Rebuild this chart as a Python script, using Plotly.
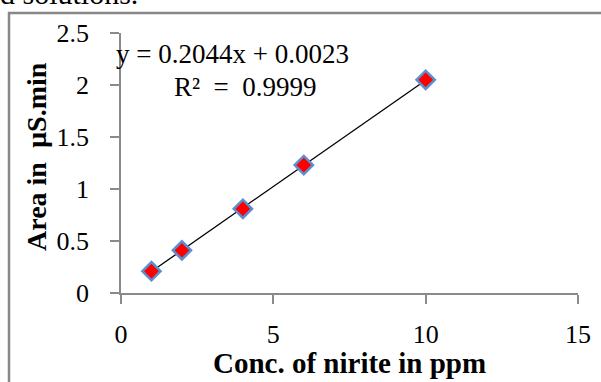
import plotly.graph_objects as go

conc_ppm = [1, 2, 4, 6, 10]
area_us_min = [0.21, 0.41, 0.81, 1.23, 2.05]
slope = 0.2044
intercept = 0.0023
r_squared = 0.9999
x_ticks = [0, 5, 10, 15]
y_ticks = [0, 0.5, 1, 1.5, 2, 2.5]
y_tick_labels = ["0", "0.5", "1", "1.5", "2", "2.5"]

W, H = 601, 382
L, R, T, B = 121, 23, 33, 89
pw, ph = W - L - R, H - T - B

def px_x(p):
    return (p - L) / pw

def px_y(p):
    return (H - B - p) / ph

serif = "Liberation Serif, Times New Roman, serif"
grey = "#8a8a8a"

trend_x = [conc_ppm[0], conc_ppm[-1]]
trend_y = [slope * v + intercept for v in trend_x]

fig = go.Figure()
fig.add_trace(go.Scatter(x=trend_x, y=trend_y, mode="lines",
                         line=dict(color="black", width=1.3), showlegend=False,
                         hoverinfo="skip"))
fig.add_trace(go.Scatter(x=conc_ppm, y=area_us_min, mode="markers",
                         marker=dict(symbol="diamond", size=14, color="#ff0000",
                                     line=dict(color="#5b8fcf", width=2.5)),
                         showlegend=False))

fig.update_layout(
    width=W, height=H,
    margin=dict(l=L, r=R, t=T, b=B, autoexpand=False),
    paper_bgcolor="white", plot_bgcolor="white",
    font=dict(family=serif, color="black", size=26),
    xaxis=dict(range=[0, 15], tickvals=x_ticks, showgrid=False, zeroline=False,
               automargin=False,
               showline=True, linecolor=grey, linewidth=1.5,
               ticks="outside", ticklen=9, tickcolor=grey, tickwidth=1.5,
               ticklabelstandoff=8, tickfont=dict(size=26, family=serif)),
    yaxis=dict(range=[0, 2.5], tickvals=y_ticks, ticktext=y_tick_labels,
               showgrid=False, zeroline=False, automargin=False,
               showline=True, linecolor=grey, linewidth=1.5,
               ticks="outside", ticklen=9, tickcolor=grey, tickwidth=1.5,
               ticklabelstandoff=16, tickfont=dict(size=26, family=serif)),
    shapes=[dict(type="rect", xref="paper", yref="paper",
                 x0=px_x(9), x1=px_x(W + 10), y0=px_y(H + 10), y1=px_y(13),
                 line=dict(color="#888888", width=2.5), fillcolor="rgba(0,0,0,0)",
                 layer="below")],
    annotations=[
        dict(text=f"y = {slope}x + {intercept}", xref="paper", yref="paper",
             x=px_x(114), y=px_y(54), xanchor="left", yanchor="middle",
             showarrow=False, font=dict(size=27, family=serif)),
        dict(text=f"R\u00b2\u00a0 =\u00a0 {r_squared}", xref="paper", yref="paper",
             x=px_x(172), y=px_y(87), xanchor="left", yanchor="middle",
             showarrow=False, font=dict(size=27, family=serif)),
        dict(text="<b>Conc. of nirite in ppm</b>", xref="paper", yref="paper",
             x=0.5, y=px_y(381), xanchor="center", yanchor="bottom",
             showarrow=False, font=dict(size=29, family=serif)),
        dict(text="<b>Area in \u00a0µS.min</b>", xref="paper", yref="paper",
             x=px_x(36), y=px_y(157), xanchor="center", yanchor="middle",
             textangle=-90, showarrow=False, font=dict(size=28, family=serif)),
        dict(text="d solutions.", xref="paper", yref="paper",
             x=px_x(-2), y=px_y(12), xanchor="left", yanchor="bottom",
             showarrow=False, font=dict(size=30, family=serif)),
    ],
)

fig.write_html("out.html",
               config={"displayModeBar": False},
               post_script="document.body.style.margin='0';"
                           "document.body.style.overflow='hidden';")
